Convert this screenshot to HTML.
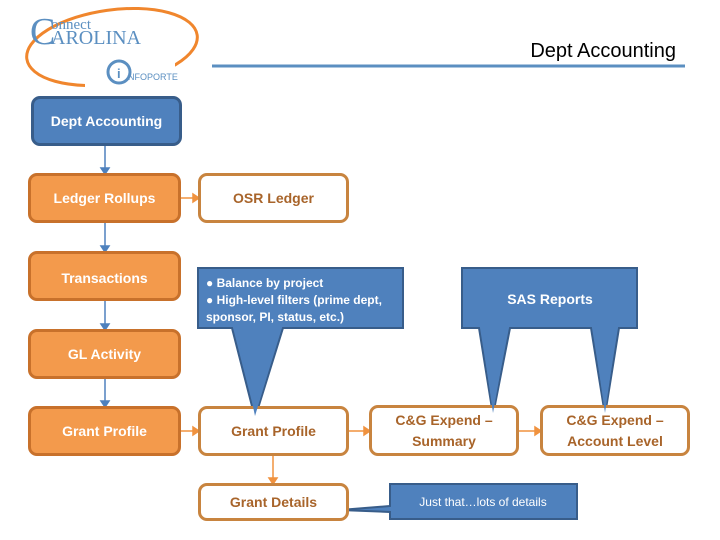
<!DOCTYPE html>
<html><head><style>
body{margin:0;width:720px;height:540px;background:#fff;overflow:hidden;position:relative;font-family:"Liberation Sans",sans-serif;}
.b{position:absolute;box-sizing:border-box;border-radius:9px;display:flex;align-items:center;justify-content:center;text-align:center;font-weight:bold;font-size:14px;line-height:21px;}
.o{background:#f39a4c;border:3px solid #c8712b;color:#fff;}
.w{background:#fff;border:3px solid #c8843f;color:#a8642a;}
.bl{background:#4f81bd;border:3px solid #385d8a;color:#fff;}
</style></head><body>
<svg width="720" height="540" style="position:absolute;left:0;top:0">
<ellipse cx="112" cy="47" rx="86" ry="37" fill="none" stroke="#f0862d" stroke-width="3" transform="rotate(-8 112 47)"/>
<rect x="85" y="60" width="90" height="28" fill="#fff"/>
<text x="30" y="44" font-family="Liberation Serif" font-size="38" fill="#5b8fc1">C</text>
<text x="51" y="29" font-family="Liberation Serif" font-size="15" fill="#5b8fc1">onnect</text>
<text x="51" y="44" font-family="Liberation Serif" font-size="20" fill="#5b8fc1">AROLINA</text>
<circle cx="119" cy="72" r="11" fill="none" stroke="#5b8fc1" stroke-width="3"/>
<text x="117" y="78" font-size="13" font-weight="bold" fill="#5b8fc1">i</text>
<text x="128" y="80" font-size="9" fill="#5b8fc1">NFOPORTE</text>
<line x1="212" y1="66" x2="685" y2="66" stroke="#5b8fc1" stroke-width="3"/>
<text x="676" y="57" text-anchor="end" font-size="20" fill="#000">Dept Accounting</text>
<g stroke="#4f81bd" stroke-width="1.5" fill="#4f81bd">
<line x1="105" y1="146" x2="105" y2="170"/><polygon points="101,168 109,168 105,174"/>
<line x1="105" y1="223" x2="105" y2="248"/><polygon points="101,246 109,246 105,252"/>
<line x1="105" y1="301" x2="105" y2="326"/><polygon points="101,324 109,324 105,330"/>
<line x1="105" y1="379" x2="105" y2="403"/><polygon points="101,401 109,401 105,407"/>
</g>
<g stroke="#f0923f" stroke-width="1.5" fill="#f0923f">
<line x1="181" y1="198" x2="196" y2="198"/><polygon points="193,194 193,202 199,198"/>
<line x1="181" y1="431" x2="196" y2="431"/><polygon points="193,427 193,435 199,431"/>
<line x1="349" y1="431" x2="367" y2="431"/><polygon points="364,427 364,435 370,431"/>
<line x1="519" y1="431" x2="538" y2="431"/><polygon points="535,427 535,435 541,431"/>
<line x1="273" y1="456" x2="273" y2="481"/><polygon points="269,478 277,478 273,484"/>
</g>
<g fill="#4f81bd" stroke="#385d8a" stroke-width="2">
<path d="M198,268 H403 V328 H283 L255,418 L232,328 H198 Z"/>
<path d="M462,268 H637 V328 H619 L605,415 L591,328 H510 L493,415 L479,328 H462 Z"/>
<path d="M390,484 H577 V519 H390 V512 L340,510 L390,506 Z"/>
</g>
<text font-size="12" font-weight="bold" fill="#fff"><tspan x="206" y="287">● Balance by project</tspan><tspan x="206" y="304">● High-level filters (prime dept,</tspan><tspan x="206" y="321">sponsor, PI, status, etc.)</tspan></text>
<text x="550" y="304" text-anchor="middle" font-size="14" font-weight="bold" fill="#fff">SAS Reports</text>
<text x="483" y="506" text-anchor="middle" font-size="12" fill="#fff">Just that…lots of details</text>
</svg>
<div class="b bl" style="left:31px;top:96px;width:151px;height:50px">Dept Accounting</div>
<div class="b o" style="left:28px;top:173px;width:153px;height:50px">Ledger Rollups</div>
<div class="b o" style="left:28px;top:251px;width:153px;height:50px;align-items:flex-start;padding-top:14px">Transactions</div>
<div class="b o" style="left:28px;top:329px;width:153px;height:50px">GL Activity</div>
<div class="b o" style="left:28px;top:406px;width:153px;height:50px">Grant Profile</div>
<div class="b w" style="left:198px;top:173px;width:151px;height:50px">OSR Ledger</div>
<div class="b w" style="left:198px;top:406px;width:151px;height:50px">Grant Profile</div>
<div class="b w" style="left:198px;top:483px;width:151px;height:38px">Grant Details</div>
<div class="b w" style="left:369px;top:405px;width:150px;height:51px">C&amp;G Expend –<br>Summary</div>
<div class="b w" style="left:540px;top:405px;width:150px;height:51px">C&amp;G Expend –<br>Account Level</div>
<svg width="720" height="540" style="position:absolute;left:0;top:0;pointer-events:none">
<g fill="#4f81bd"><polygon points="237,330 281,330 255,416"/><polygon points="481,330 508,330 493,413"/><polygon points="593,330 617,330 605,413"/></g>
</svg>
</body></html>
